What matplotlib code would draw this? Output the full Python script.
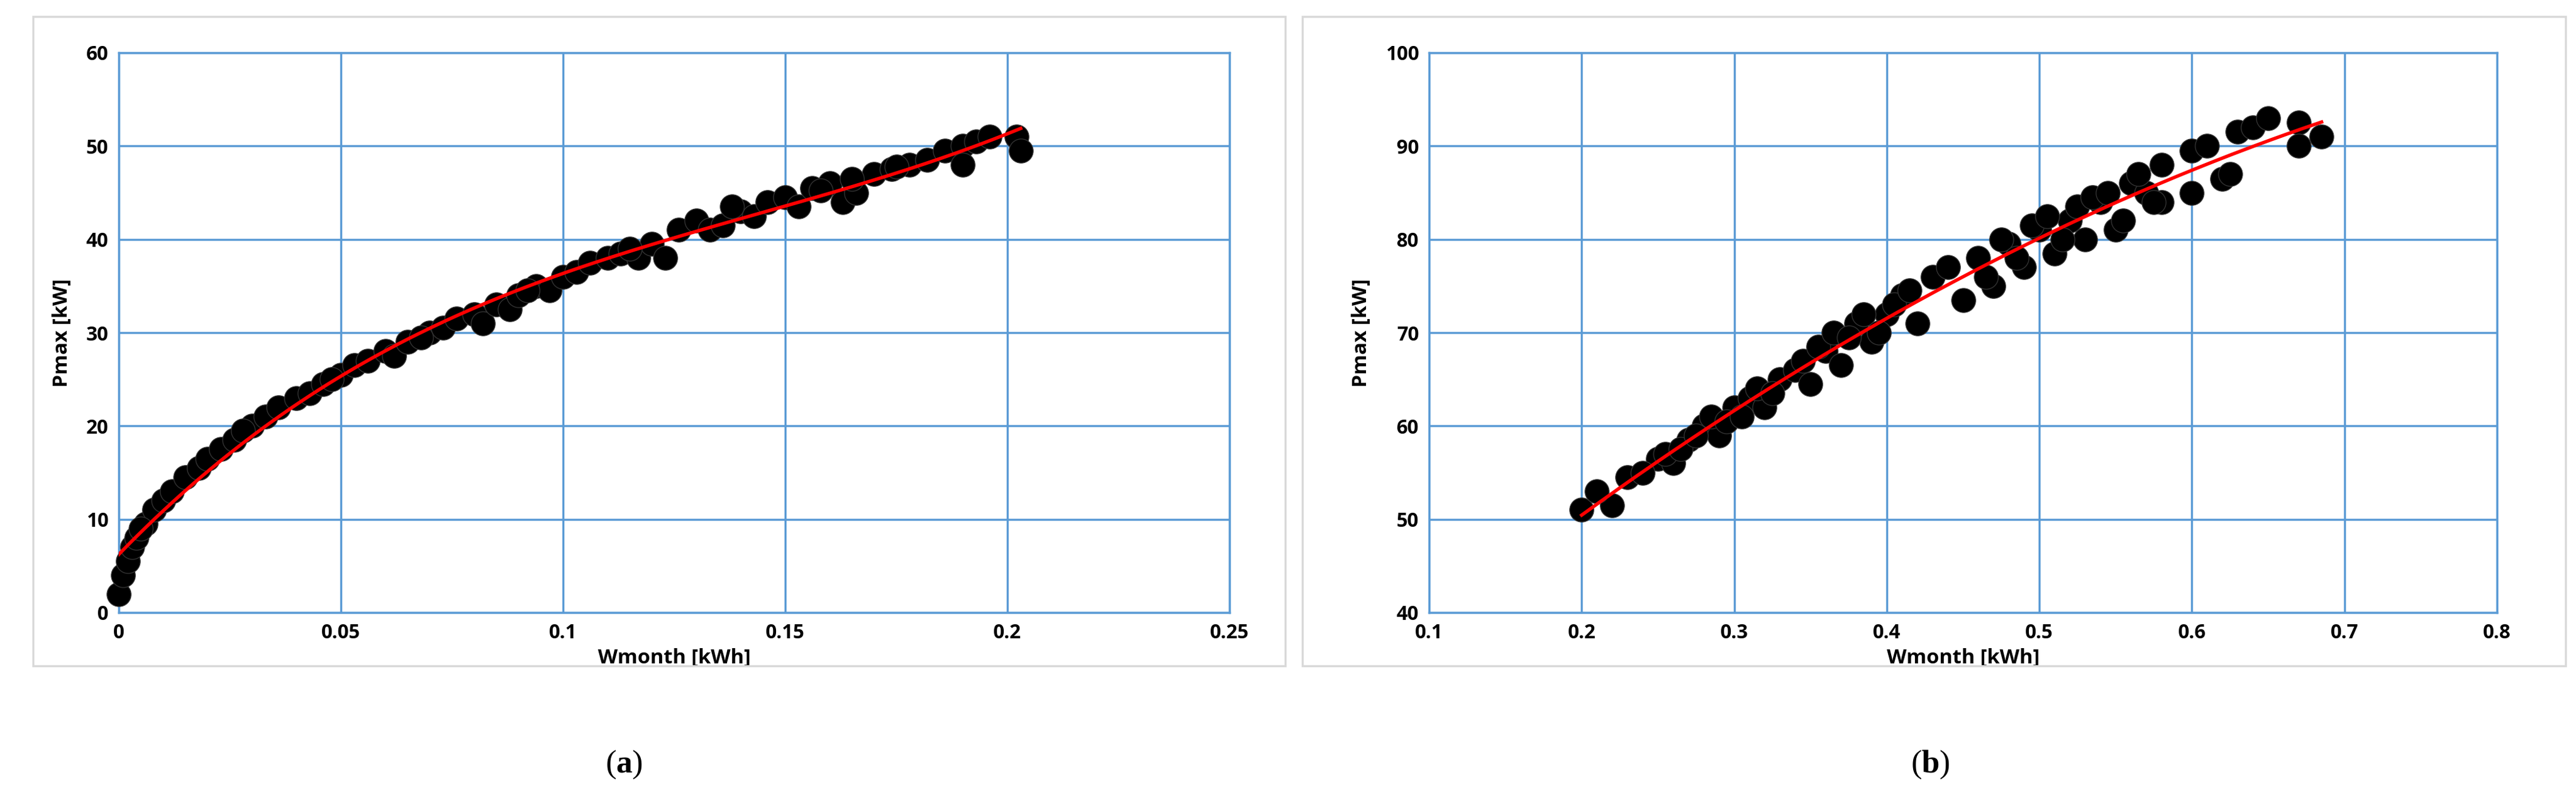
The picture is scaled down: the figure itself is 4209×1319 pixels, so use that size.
import numpy as np
import matplotlib
matplotlib.use("Agg")
import matplotlib.pyplot as plt
from matplotlib.patches import Rectangle

left_x = [0.000,0.001,0.002,0.003,0.004,0.006,0.008,0.010,0.012,0.015,0.018,0.020,0.023,0.026,0.030,0.033,0.036,0.040,0.043,0.046,0.050,0.053,0.056,0.060,0.062,0.065,0.070,0.073,0.076,0.080,0.082,0.085,0.088,0.090,0.094,0.097,0.100,0.103,0.106,0.110,0.113,0.117,0.120,0.123,0.126,0.130,0.133,0.136,0.140,0.143,0.146,0.150,0.153,0.156,0.160,0.163,0.166,0.170,0.174,0.178,0.182,0.186,0.190,0.190,0.193,0.196,0.202,0.203,0.165,0.175,0.005,0.028,0.048,0.068,0.092,0.115,0.138,0.158]
left_y = [2,4,5.5,7,8,9.5,11,12,13,14.5,15.5,16.5,17.5,18.5,20,21,22,23,23.5,24.5,25.5,26.5,27,28,27.5,29,30,30.5,31.5,32,31,33,32.5,34,35,34.5,36,36.5,37.5,38,38.5,38,39.5,38,41,42,41,41.5,43,42.5,44,44.5,43.5,45.5,46,44,45,47,47.5,48,48.5,49.5,50,48,50.5,51,51,49.5,46.5,47.8,9,19.5,25,29.5,34.5,39,43.5,45.2]

right_x = [0.20,0.22,0.21,0.23,0.25,0.26,0.27,0.28,0.29,0.30,0.31,0.32,0.33,0.34,0.35,0.36,0.37,0.38,0.39,0.40,0.41,0.42,0.43,0.45,0.46,0.47,0.48,0.49,0.50,0.51,0.52,0.53,0.54,0.55,0.56,0.57,0.58,0.58,0.60,0.60,0.61,0.62,0.63,0.64,0.65,0.67,0.67,0.685,0.24,0.255,0.265,0.275,0.285,0.295,0.305,0.315,0.325,0.345,0.355,0.365,0.375,0.385,0.395,0.405,0.415,0.44,0.465,0.475,0.485,0.495,0.505,0.515,0.525,0.535,0.545,0.555,0.565,0.575,0.625]
right_y = [51,51.5,53,54.5,56.5,56,58.5,60,59,62,63,62,65,66,64.5,68,66.5,71,69,72,74,71,76,73.5,78,75,79.5,77,81,78.5,82,80,84,81,86,85,88,84,85,89.5,90,86.5,91.5,92,93,92.5,90,91,55,57,57.5,59,61,60.5,61,64,63.5,67,68.5,70,69.5,72,70,73,74.5,77,76,80,78,81.5,82.5,80,83.5,84.5,85,82,87,84,87]

left_xticks = [0, 0.05, 0.1, 0.15, 0.2, 0.25]
left_yticks = [0, 10, 20, 30, 40, 50, 60]
right_xticks = [0.1, 0.2, 0.3, 0.4, 0.5, 0.6, 0.7, 0.8]
right_yticks = [40, 50, 60, 70, 80, 90, 100]

W, H = 4209, 1319
fig = plt.figure(figsize=(W/100, H/100), dpi=100)
grid_c = "#5B9BD5"
font = dict(family="Open Sans", weight="bold")

for (x0, x1) in [(54, 2100), (2128, 4192)]:
    fig.patches.append(Rectangle((x0/W, 1-1087/H), (x1-x0)/W, (1087-27)/H,
                                 transform=fig.transFigure, fill=False,
                                 edgecolor="#d9d9d9", lw=2.5))

def panel(rect, xs, ys, xt, yt, xfmt, letter, lab_x, deg):
    x0, x1, y0, y1 = rect
    ax = fig.add_axes([x0/W, 1-y1/H, (x1-x0)/W, (y1-y0)/H])
    ax.set_xlim(xt[0], xt[-1]); ax.set_ylim(yt[0], yt[-1])
    ax.set_xticks(xt); ax.set_yticks(yt)
    ax.set_xticklabels([xfmt(v) for v in xt], fontsize=23, **font)
    ax.set_yticklabels([str(v) for v in yt], fontsize=23, **font)
    ax.tick_params(length=0, pad=12)
    ax.grid(True, color=grid_c, lw=2.5)
    for s in ax.spines.values():
        s.set_color(grid_c); s.set_linewidth(2.5)
    ax.scatter(xs, ys, s=800, c="black", edgecolors="#333333", linewidths=1,
               zorder=3, clip_on=False)
    c = np.polyfit(xs, ys, deg)
    xf = np.linspace(min(xs), max(xs), 200)
    ax.plot(xf, np.polyval(c, xf), color="#ff0000", lw=4, zorder=4)
    ax.set_xlabel("Wmonth [kWh]", fontsize=24, labelpad=6, **font)
    ax.set_ylabel("Pmax [kW]", fontsize=24, labelpad=16, **font)
    fig.text(lab_x/W, 1-1248/H, "(" + r"$\mathbf{" + letter + "}$" + ")",
             ha="center", va="center", fontsize=38, family="Liberation Serif")
    return ax

matplotlib.rcParams['mathtext.fontset'] = 'custom'
matplotlib.rcParams['mathtext.bf'] = 'Liberation Serif:bold'

panel((194, 2009, 86, 1000), left_x, left_y, left_xticks, left_yticks,
      lambda v: "0" if v == 0 else f"{v:g}", "a", 1020, 3)
panel((2335, 4080, 86, 1000), right_x, right_y, right_xticks, right_yticks,
      lambda v: f"{v:g}", "b", 3154, 2)

fig.savefig("out.png", dpi=100)
